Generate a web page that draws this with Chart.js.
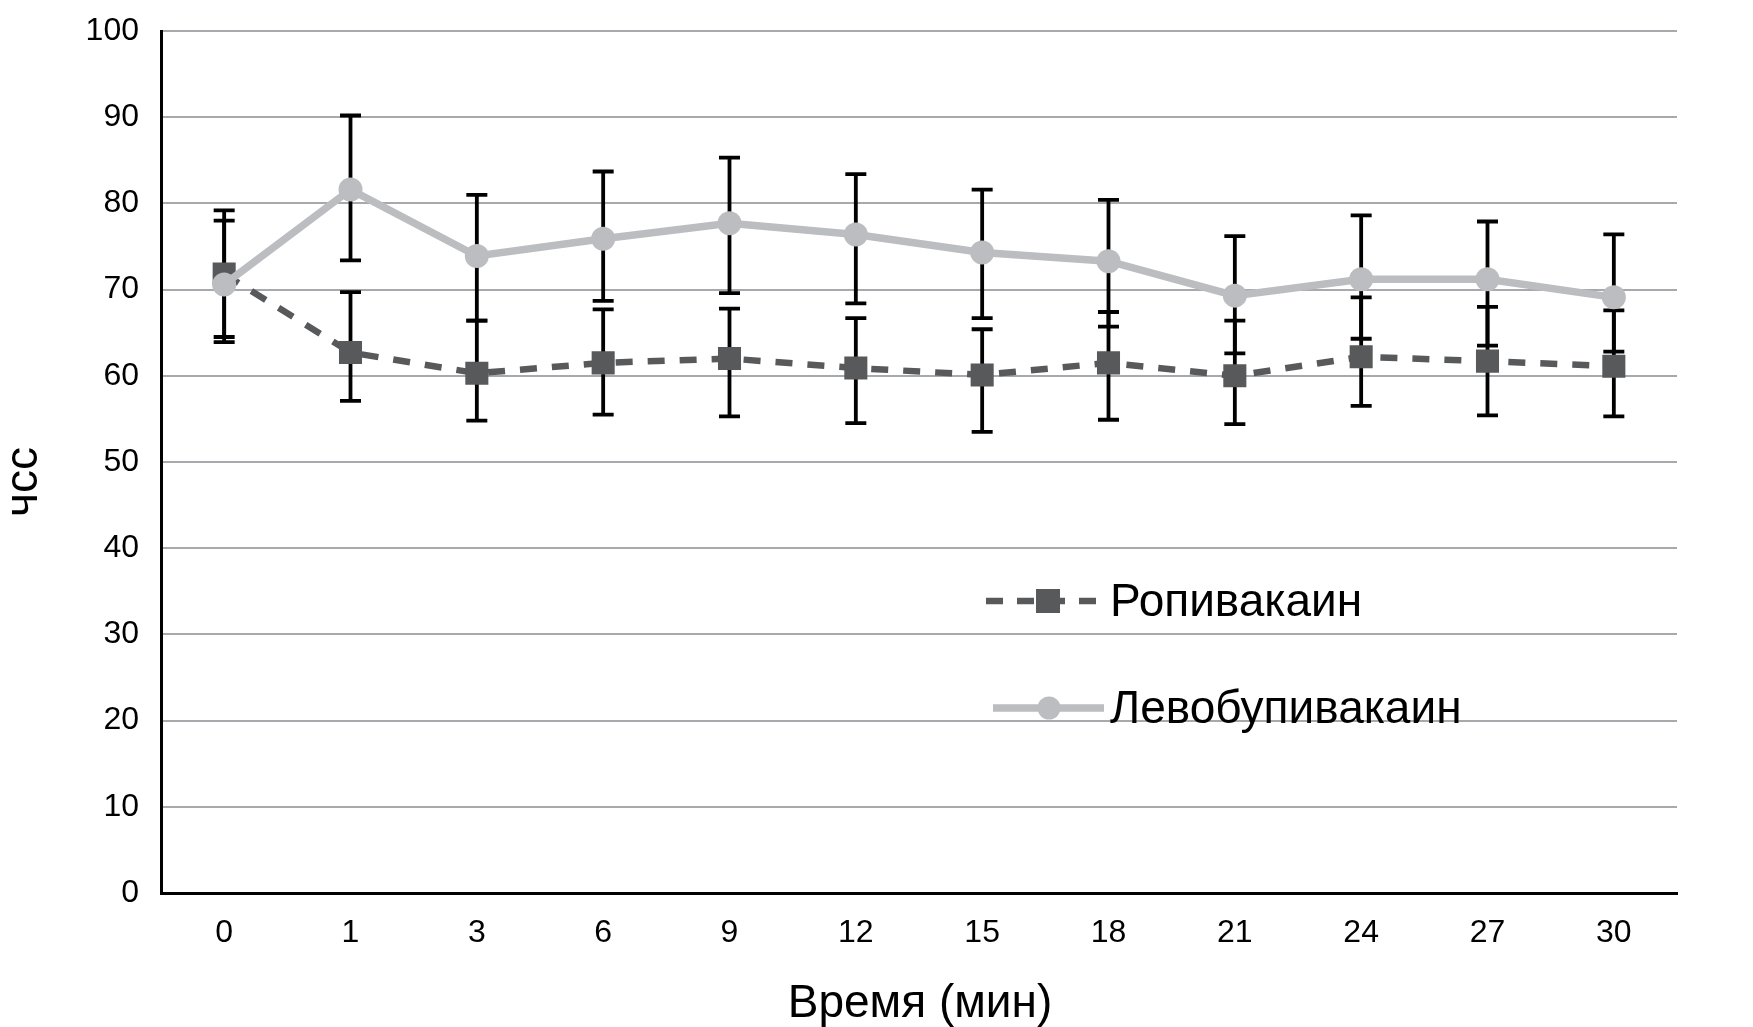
<!DOCTYPE html>
<html>
<head>
<meta charset="utf-8">
<script src="https://cdn.jsdelivr.net/npm/chart.js@4.4.1/dist/chart.umd.min.js"></script>
<style>
  html, body { margin: 0; background: #fff; }
  #wrap { width: 1753px; height: 1027px; }
</style>
</head>
<body>
<div id="wrap"><canvas id="chart"></canvas></div>
<script>
const labels   = ["0", "1", "3", "6", "9", "12", "15", "18", "21", "24", "27", "30"];

// Ropivacaine: mean and ends of the error bars
const ropiMean = [71.8, 62.7, 60.3, 61.5, 62.0, 60.9, 60.1, 61.5, 60.0, 62.2, 61.7, 61.1];
const ropiHigh = [79.2, 69.7, 66.4, 67.7, 67.8, 66.7, 65.4, 67.4, 66.4, 69.1, 68.0, 67.6];
const ropiLow  = [64.5, 57.1, 54.8, 55.5, 55.3, 54.5, 53.5, 54.9, 54.4, 56.5, 55.4, 55.3];

// Levobupivacaine
const levoMean = [70.6, 81.6, 73.9, 75.9, 77.7, 76.4, 74.3, 73.3, 69.3, 71.2, 71.2, 69.1];
const levoHigh = [78.0, 90.2, 81.0, 83.7, 85.3, 83.4, 81.6, 80.4, 76.2, 78.6, 77.9, 76.4];
const levoLow  = [63.9, 73.4, 66.4, 68.7, 69.6, 68.4, 66.7, 65.7, 62.6, 64.3, 63.5, 62.8];

const DARK  = "#58595b";
const LIGHT = "#bcbdc0";
const FONT  = "'Liberation Sans', Arial, sans-serif";

const extras = {
  id: "extras",
  // error bars go under the lines and markers
  beforeDatasetsDraw(chart) {
    const { ctx, scales: { x, y } } = chart;
    ctx.save();
    ctx.strokeStyle = "#000";
    ctx.lineWidth = 3.8;
    for (const [hi, lo] of [[ropiHigh, ropiLow], [levoHigh, levoLow]]) {
      labels.forEach((_, i) => {
        const px = x.getPixelForValue(i);
        const yh = y.getPixelForValue(hi[i]);
        const yl = y.getPixelForValue(lo[i]);
        ctx.beginPath();
        ctx.moveTo(px, yh); ctx.lineTo(px, yl);
        ctx.moveTo(px - 10.5, yh); ctx.lineTo(px + 10.5, yh);
        ctx.moveTo(px - 10.5, yl); ctx.lineTo(px + 10.5, yl);
        ctx.stroke();
      });
    }
    ctx.restore();
  },
  afterDraw(chart) {
    const { ctx } = chart;
    const [ropi, levo] = chart.data.datasets;
    ctx.save();

    // legend: Ropi
    ctx.strokeStyle = DARK;
    ctx.lineWidth = 6.5;
    ctx.setLineDash([17, 14]);
    ctx.beginPath(); ctx.moveTo(986, 601); ctx.lineTo(1096, 601); ctx.stroke();
    ctx.setLineDash([]);
    ctx.fillStyle = DARK;
    ctx.fillRect(1048 - 12, 601 - 12, 24, 24);

    // legend: Levo
    ctx.strokeStyle = LIGHT;
    ctx.lineWidth = 7.5;
    ctx.beginPath(); ctx.moveTo(993, 708); ctx.lineTo(1104, 708); ctx.stroke();
    ctx.fillStyle = LIGHT;
    ctx.beginPath(); ctx.arc(1049, 708, 11.5, 0, Math.PI * 2); ctx.fill();

    ctx.fillStyle = "#000";
    ctx.font = "46px " + FONT;
    ctx.textAlign = "left";
    ctx.textBaseline = "middle";
    ctx.fillText(ropi.label, 1110, 603);
    ctx.fillText(levo.label, 1110, 710);

    // axis titles
    ctx.textAlign = "center";
    ctx.fillText("Время (мин)", 920, 1004);
    ctx.translate(24, 482);
    ctx.rotate(-Math.PI / 2);
    ctx.fillText("чсс", 0, 0);
    ctx.restore();
  }
};

new Chart(document.getElementById("chart"), {
  type: "line",
  data: {
    labels,
    datasets: [
      {
        label: "Ропивакаин",
        data: ropiMean,
        borderColor: DARK,
        borderWidth: 6.5,
        borderDash: [17, 15],
        pointStyle: "rect",
        pointRadius: 16.3,
        pointBackgroundColor: DARK,
        pointBorderWidth: 0,
        tension: 0,
        order: 1,
      },
      {
        label: "Левобупивакаин",
        data: levoMean,
        borderColor: LIGHT,
        borderWidth: 7.5,
        pointStyle: "circle",
        pointRadius: 12,
        pointBackgroundColor: LIGHT,
        pointBorderWidth: 0,
        tension: 0,
        order: 0,
      },
    ],
  },
  options: {
    responsive: true,
    maintainAspectRatio: false,
    animation: false,
    layout: { padding: { top: 31, right: 76, left: 0, bottom: 0 } },
    plugins: {
      legend: { display: false },
      tooltip: { enabled: false },
    },
    scales: {
      x: {
        type: "category",
        offset: true,
        grid: { display: false },
        border: { display: true, color: "#000", width: 3 },
        ticks: { color: "#000", font: { family: FONT, size: 32 }, padding: 13 },
        afterFit: s => { s.height = 134; },
      },
      y: {
        min: 0,
        max: 100,
        ticks: { stepSize: 10, color: "#000", font: { family: FONT, size: 32 }, padding: 22 },
        grid: { color: "#a7a9ac", lineWidth: 2, drawTicks: false },
        border: { color: "#000", width: 3 },
        afterFit: s => { s.width = 161; s.paddingTop = 0; s.paddingBottom = 0; },
      },
    },
  },
  plugins: [extras],
});
</script>
</body>
</html>
